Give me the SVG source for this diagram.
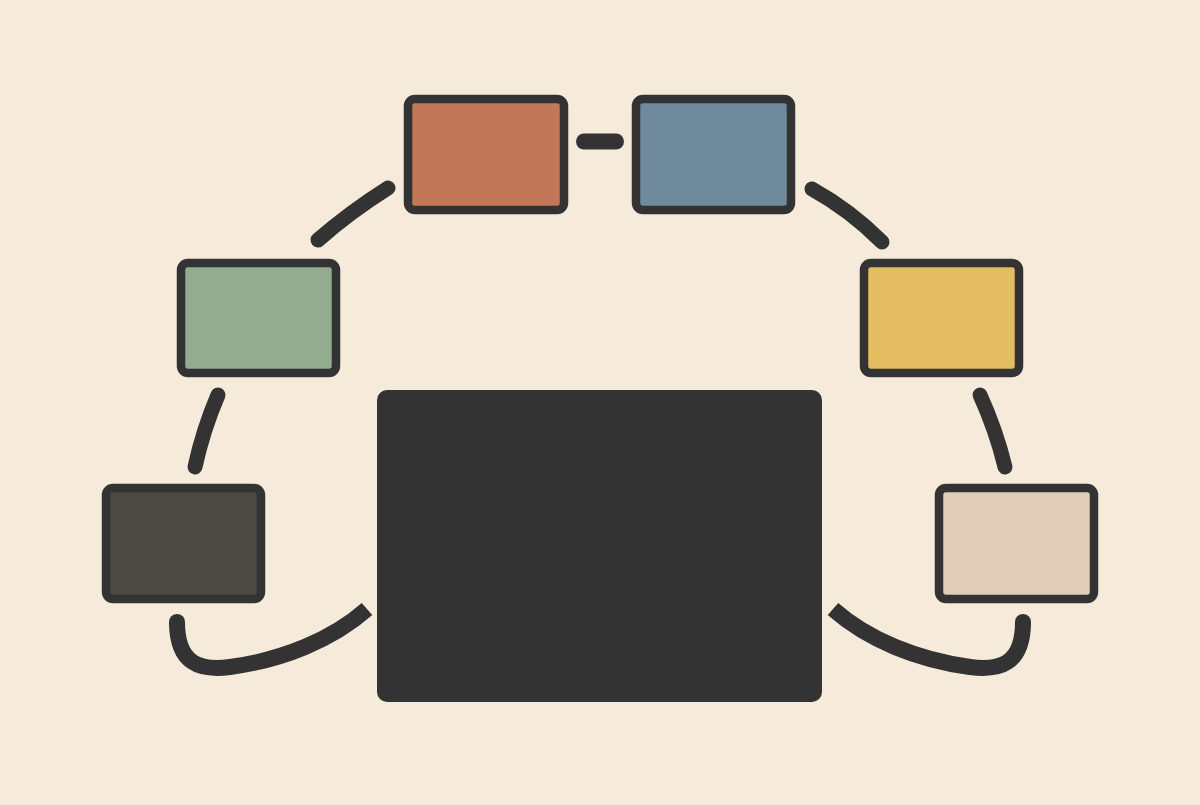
<svg xmlns="http://www.w3.org/2000/svg" width="1200" height="805" viewBox="0 0 1200 805">
<style>
.box{stroke:#333333;stroke-width:8.5}
.c{fill:none;stroke:#333333;stroke-width:15;stroke-linecap:round}
</style>
<rect width="1200" height="805" fill="#F6EBDA"/>
<g id="connectors">
<path class="c" d="M584,141.5 L616,141.5" style="stroke-width:16"/>
<path class="c" d="M318,240 Q350,212 388,188"/>
<path class="c" d="M812,189 Q850,210 882,242"/>
<path class="c" d="M218,395 Q203,430 195,467"/>
<path class="c" d="M980,395 Q996,430 1005,467"/>
<path class="c" d="M177,622 C177,664 200,671 230,667 C282,660 332,640 367,609" style="stroke-width:16;stroke-linecap:butt"/>
<path class="c" d="M1023,622 C1023,664 1000,671 970,667 C918,660 868,640 833,609" style="stroke-width:16;stroke-linecap:butt"/>
<path d="M177,622 v0" stroke="#333333" stroke-width="16" stroke-linecap="round"/>
<path d="M1023,622 v0" stroke="#333333" stroke-width="16" stroke-linecap="round"/>
</g>
<g id="node-orange"><rect class="box" x="408" y="99" width="156" height="111" rx="7" fill="#C27759"/></g>
<g id="node-blue"><rect class="box" x="636" y="99" width="155" height="111" rx="7" fill="#6E8A9C"/></g>
<g id="node-green"><rect class="box" x="181" y="263" width="155" height="110" rx="7" fill="#93AB8F"/></g>
<g id="node-yellow"><rect class="box" x="864" y="263" width="155" height="110" rx="7" fill="#E4BD62"/></g>
<g id="node-dark"><rect class="box" x="106" y="488" width="155" height="111" rx="7" fill="#4A4944"/></g>
<g id="node-beige"><rect class="box" x="939" y="488" width="155" height="111" rx="7" fill="#DFCDB8"/></g>
<g id="node-center"><rect x="377" y="390" width="445" height="312" rx="10" fill="#333333"/></g>
</svg>
